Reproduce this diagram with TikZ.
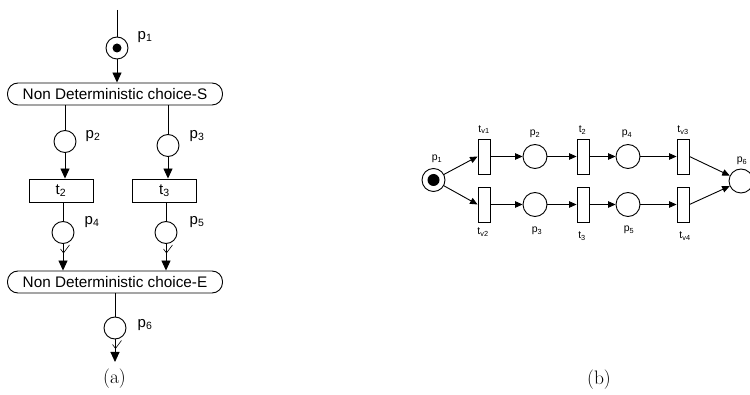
\documentclass[tikz,border=0pt]{standalone}
\usepackage{fontspec}
\newfontfamily\arial{Liberation Sans}
\usetikzlibrary{arrows.meta}
\begin{document}
\begin{tikzpicture}[x=1pt,y=-1pt,
  line width=0.9pt,
  place/.style={circle,draw,minimum size=22pt,inner sep=0pt},
  bplace/.style={circle,draw,minimum size=24pt,inner sep=0pt},
  chbox/.style={draw,rounded corners=10.5pt,minimum width=215pt,minimum height=22pt,inner sep=0pt,font=\arial\fontsize{15.3}{18}\selectfont},
  trbox/.style={draw,minimum width=64pt,minimum height=23pt,inner sep=0pt,font=\arial\fontsize{15}{18}\selectfont},
  bbar/.style={draw,minimum width=12pt,minimum height=35pt,inner sep=0pt},
  alab/.style={font=\arial\fontsize{15}{18}\selectfont,inner sep=0pt},
  blab/.style={font=\arial\fontsize{10.5}{12}\selectfont,inner sep=0pt},
  aarr/.style={-{Triangle[width=9pt,length=10pt]}},
  barr/.style={-{Triangle[width=6.5pt,length=7.5pt]}},
  checkmark/.style={line width=0.6pt},
  atoken/.style={circle,fill,minimum size=9pt,inner sep=0pt},
  btoken/.style={circle,fill,minimum size=12pt,inner sep=0pt},
  captext/.style={font=\fontsize{19.5}{22}\selectfont,inner sep=0pt}
]
\useasboundingbox (0,0) rectangle (750,395);

% ---------- (a) ----------
\coordinate (top) at (117,10);
\node[place] (p1) at (117,48) {};
\node[atoken] (tok1) at (p1) {};
\node[alab] (lp1) at (145,37) {p\textsubscript{1}};
\node[chbox] (S) at (115,94) {Non Deterministic choice-S};
\node[place] (p2) at (65,141.5) {};
\node[place] (p3) at (168,145.5) {};
\node[alab] (lp2) at (93,136) {p\textsubscript{2}};
\node[alab] (lp3) at (197,136) {p\textsubscript{3}};
\node[trbox] (t2) at (61,190.5) {t\textsubscript{2}};
\node[trbox] (t3) at (164.5,190.5) {t\textsubscript{3}};
\node[place] (p4) at (63,232.5) {};
\node[place] (p5) at (166,232.5) {};
\node[alab] (lp4) at (92,222) {p\textsubscript{4}};
\node[alab] (lp5) at (197,222) {p\textsubscript{5}};
\node[chbox] (E) at (115,282) {Non Deterministic choice-E};
\node[place] (p6) at (115,328) {};
\node[alab] (lp6) at (145,325) {p\textsubscript{6}};
\coordinate (end) at (115,362);
\node[captext] (capa) at (114.5,379) {(a)};

\draw (top) -- (p1);
\draw[aarr] (p1) -- (p1 |- S.north);
\draw (S.south -| p2) -- (p2);
\draw (S.south -| p3) -- (p3);
\draw[aarr] (p2) -- (p2 |- t2.north);
\draw[aarr] (p3) -- (p3 |- t3.north);
\draw (t2.south -| p4) -- (p4);
\draw (t3.south -| p5) -- (p5);
\draw[aarr] (p4) -- (p4 |- E.north);
\draw[aarr] (p5) -- (p5 |- E.north);
\draw (E.south -| p6) -- (p6);
\draw[aarr] (p6) -- (end);
% small check-like ticks under the places
\draw[checkmark] ([shift={(-2.5,5)}]p4.south) -- ++(3,4) -- ++(6,-8);
\draw[checkmark] ([shift={(-2.5,5)}]p5.south) -- ++(3,4) -- ++(6,-8);
\draw[checkmark] ([shift={(-2.5,5)}]p6.south) -- ++(3,4) -- ++(6,-8);

% ---------- (b) ----------
\node[bplace,minimum size=23pt] (q1) at (433.5,180) {};
\node[btoken] (tok2) at (q1) {};
\node[bbar] (v1) at (484,156.5) {};
\node[bbar] (v2) at (484,204.5) {};
\node[bplace] (q2) at (535,156.5) {};
\node[bplace] (q3) at (535,204.5) {};
\node[bbar] (u2) at (583,156.5) {};
\node[bbar] (u3) at (583,204.5) {};
\node[bplace] (q4) at (628,156.5) {};
\node[bplace] (q5) at (628,204.5) {};
\node[bbar] (v3) at (683,156.5) {};
\node[bbar] (v4) at (683,204.5) {};
\node[bplace] (q6) at (741,181) {};

\node[blab] (lq1) at (437,159) {p\textsubscript{1}};
\node[blab] (lv1) at (484,129.5) {t\textsubscript{v1}};
\node[blab] (lq2) at (535,134) {p\textsubscript{2}};
\node[blab] (lu2) at (582.5,130) {t\textsubscript{2}};
\node[blab] (lq4) at (627,134) {p\textsubscript{4}};
\node[blab] (lv3) at (683,130) {t\textsubscript{v3}};
\node[blab] (lv2) at (483,232) {t\textsubscript{v2}};
\node[blab] (lq3) at (537,231) {p\textsubscript{3}};
\node[blab] (lu3) at (582,236) {t\textsubscript{3}};
\node[blab] (lq5) at (629,230) {p\textsubscript{5}};
\node[blab] (lv4) at (685,236) {t\textsubscript{v4}};
\node[blab] (lq6) at (742,161) {p\textsubscript{6}};
\node[captext] (capb) at (599,380) {(b)};

\draw[barr] (q1) -- (v1.west);
\draw[barr] (q1) -- (v2.west);
\draw[barr] (v1) -- (q2);
\draw[barr] (q2) -- (u2);
\draw[barr] (u2) -- (q4);
\draw[barr] (q4) -- (v3);
\draw[barr] (v2) -- (q3);
\draw[barr] (q3) -- (u3);
\draw[barr] (u3) -- (q5);
\draw[barr] (q5) -- (v4);
\draw[barr] (v3.east) -- (q6);
\draw[barr] (v4.east) -- (q6);
\end{tikzpicture}
\end{document}
